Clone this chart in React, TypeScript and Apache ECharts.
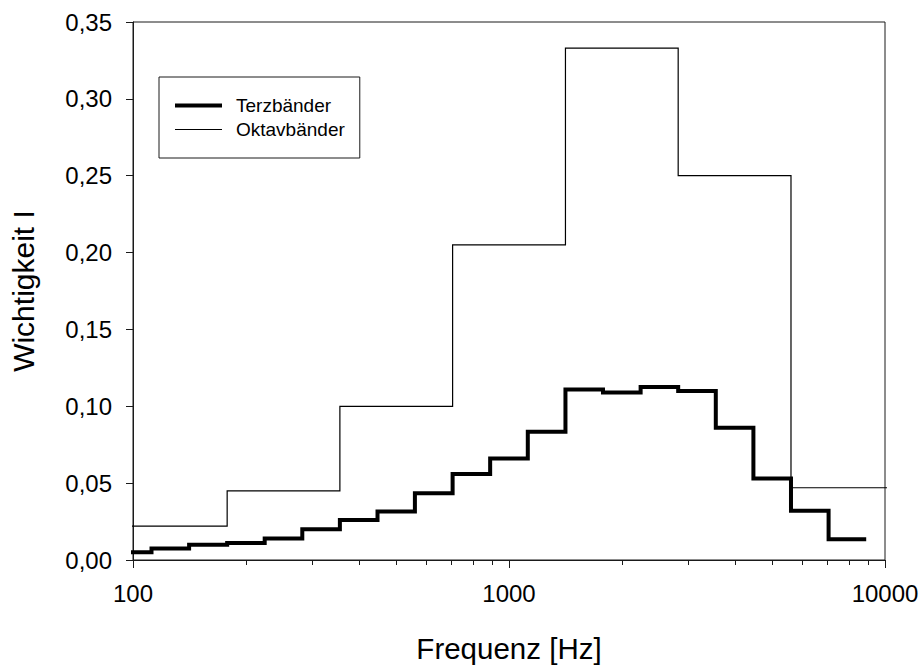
import React, { useEffect, useRef } from "react";
import * as echarts from "echarts";

// Third-octave bands (Terzbänder): band edges [Hz] and importance values
const thirdBandEdges = [89, 112, 141, 178, 224, 282, 355, 447, 562, 708, 891, 1122, 1413, 1778, 2239, 2818, 3548, 4467, 5623, 7079, 8913];
const thirdBandValues = [0.005, 0.0075, 0.010, 0.011, 0.014, 0.020, 0.026, 0.0315, 0.0435, 0.056, 0.066, 0.0835, 0.111, 0.109, 0.1125, 0.110, 0.086, 0.053, 0.032, 0.0135];

// Octave bands (Oktavbänder): band edges [Hz] and importance values
const octaveBandEdges = [88, 178, 355, 708, 1413, 2818, 5623, 11220];
const octaveBandValues = [0.022, 0.045, 0.100, 0.205, 0.333, 0.250, 0.047];

// Minor tick positions on the logarithmic frequency axis
const minorTickFreqs = [200, 300, 400, 500, 600, 700, 800, 900, 2000, 3000, 4000, 5000, 6000, 7000, 8000, 9000];

const seriesNames = ["Terzbänder", "Oktavbänder"];

function stepPoints(edges: number[], values: number[]): number[][] {
  const pts: number[][] = [];
  for (let i = 0; i < values.length; i++) {
    pts.push([edges[i], values[i]]);
    pts.push([edges[i + 1], values[i]]);
  }
  return pts;
}

const FONT = "'Liberation Sans', Arial, sans-serif";
const INK = "#1a1a1a";

export default function App() {
  const ref = useRef<HTMLDivElement>(null);
  useEffect(() => {
    if (!ref.current) return;
    const chart = echarts.init(ref.current, null, { renderer: "svg" });
    chart.setOption({
      animation: false,
      backgroundColor: "#ffffff",
      textStyle: { fontFamily: FONT, color: "#000" },
      grid: {
        left: 132,
        right: 38,
        top: 22,
        bottom: 102,
        show: true,
        borderColor: INK,
        borderWidth: 1,
      },
      legend: {
        data: [
          { name: seriesNames[0], icon: "path://M0 0H47V4H0Z" },
          { name: seriesNames[1], icon: "path://M0 0H47V1.2H0Z" },
        ],
        orient: "vertical",
        left: 159,
        top: 77,
        itemWidth: 47,
        itemHeight: 14,
        itemGap: 5,
        symbolKeepAspect: true,
        padding: [19, 15, 19, 16],
        borderColor: INK,
        borderWidth: 1,
        borderRadius: 0,
        selectedMode: false,
        itemStyle: { color: "#000", borderWidth: 0 },
        textStyle: {
          fontFamily: FONT,
          fontSize: 19,
          color: "#000",
          lineHeight: 19,
          padding: [0, 0, 0, 9],
        },
      },
      xAxis: {
        type: "log",
        logBase: 10,
        min: 100,
        max: 10000,
        name: "Frequenz [Hz]",
        nameLocation: "middle",
        nameGap: 73,
        nameTextStyle: { fontFamily: FONT, fontSize: 29.5, color: "#000" },
        axisLine: { show: true, onZero: false, lineStyle: { color: INK, width: 1 } },
        axisTick: { show: true, inside: false, length: 8, lineStyle: { color: INK, width: 1 } },
        axisLabel: {
          margin: 21,
          fontFamily: FONT,
          fontSize: 24,
          color: "#000",
          formatter: (v: number) => String(Math.round(v)),
        },
        splitLine: { show: false },
        minorTick: { show: false },
      },
      yAxis: {
        type: "value",
        min: 0,
        max: 0.35,
        interval: 0.05,
        name: "Wichtigkeit I",
        nameLocation: "middle",
        nameGap: 95,
        nameTextStyle: { fontFamily: FONT, fontSize: 30, color: "#000" },
        axisLine: { show: true, lineStyle: { color: INK, width: 1 } },
        axisTick: { show: true, inside: false, length: 7, lineStyle: { color: INK, width: 1 } },
        axisLabel: {
          margin: 21,
          fontFamily: FONT,
          fontSize: 24,
          color: "#000",
          formatter: (v: number) => v.toFixed(2).replace(".", ","),
        },
        splitLine: { show: false },
      },
      series: [
        {
          name: seriesNames[0],
          type: "line",
          data: stepPoints(thirdBandEdges, thirdBandValues),
          showSymbol: false,
          symbol: "none",
          clip: true,
          lineStyle: { color: "#000", width: 4, join: "miter", cap: "butt" },
          itemStyle: { color: "#000" },
          z: 3,
        },
        {
          name: seriesNames[1],
          type: "line",
          data: stepPoints(octaveBandEdges, octaveBandValues),
          showSymbol: false,
          symbol: "none",
          clip: true,
          lineStyle: { color: "#000", width: 1.2, join: "miter", cap: "butt" },
          itemStyle: { color: "#000" },
          z: 2,
        },
      ],
    });

    // Minor ticks of the log axis, positioned through the chart's own scale
    const minorTicks = minorTickFreqs.map((f) => {
      const p = chart.convertToPixel({ xAxisIndex: 0, yAxisIndex: 0 }, [f, 0]) as number[];
      const x = Math.round(p[0]) + 0.5;
      return {
        type: "line",
        silent: true,
        z: 10,
        shape: { x1: x, y1: p[1], x2: x, y2: p[1] + 5 },
        style: { stroke: INK, lineWidth: 1 },
      };
    });
    chart.setOption({ graphic: minorTicks });

    return () => chart.dispose();
  }, []);
  return (
    <div
      ref={ref}
      style={{ position: "fixed", left: 0, top: 0, width: 923, height: 668, background: "#fff" }}
    />
  );
}
